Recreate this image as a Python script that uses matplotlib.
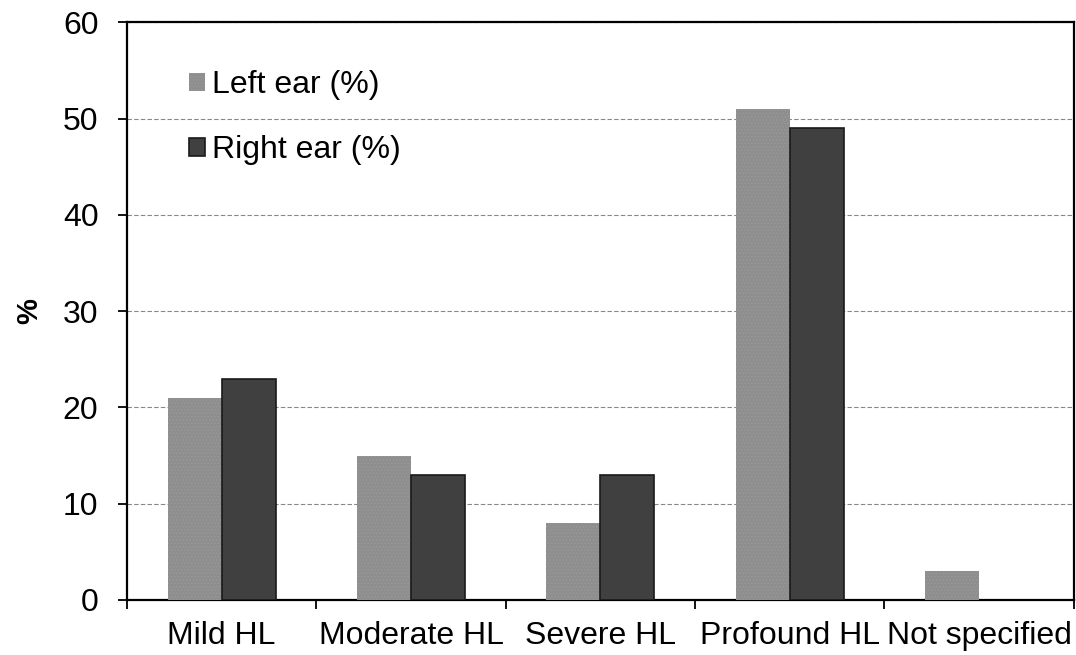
import numpy as np
import matplotlib
matplotlib.use("Agg")
import matplotlib.pyplot as plt

categories = ["Mild HL", "Moderate HL", "Severe HL", "Profound HL", "Not specified"]
left_ear = [21, 15, 8, 51, 3]
right_ear = [23, 13, 13, 49, 0]
series_labels = ["Left ear (%)", "Right ear (%)"]

plt.rcParams['font.family'] = ['Liberation Sans', 'DejaVu Sans']
plt.rcParams['hatch.color'] = '#b8b8b8'
plt.rcParams['hatch.linewidth'] = 0.6

fig = plt.figure(figsize=(10.76, 6.55), dpi=100)
ax = fig.add_axes([0.118, 0.084, 0.880, 0.882])

x = np.arange(len(categories))
w = 0.285

b1 = ax.bar(x - w / 2, left_ear, w, color='#8e8e8e', hatch='.....',
            edgecolor='#9a9a9a', linewidth=0, label=series_labels[0], zorder=3)
right_vals = np.array(right_ear, dtype=float)
b2 = ax.bar(x[right_vals > 0] + w / 2, right_vals[right_vals > 0], w,
            color='#404040', edgecolor='#1a1a1a', linewidth=1.2,
            label=series_labels[1], zorder=3)

ax.set_xlim(-0.5, len(categories) - 0.5)
ax.set_ylim(0, 60)
ax.set_yticks(np.arange(0, 61, 10))
ax.yaxis.grid(True, linestyle=(0, (4, 2)), color='#888888', linewidth=0.8, zorder=0)
ax.set_axisbelow(True)

ax.set_xticks(x)
ax.set_xticklabels(categories)
ax.set_xticks(np.arange(-0.5, len(categories), 1), minor=True)
ax.tick_params(axis='x', which='major', length=0, pad=15, labelsize=23)
ax.tick_params(axis='x', which='minor', length=6.5, width=1.3, direction='out')
ax.tick_params(axis='y', length=6.5, width=1.3, direction='out', labelsize=23, pad=14)

for s in ax.spines.values():
    s.set_linewidth(1.6)
    s.set_color('black')

ax.set_ylabel('%', fontsize=21, fontweight='bold', labelpad=14)

ax.legend(loc='upper left', bbox_to_anchor=(0.049, 0.945), frameon=False,
          fontsize=23, handlelength=0.5, handleheight=0.5, borderpad=0,
          handletextpad=0.2, labelspacing=1.1)

fig.savefig('out.png', dpi=100)
